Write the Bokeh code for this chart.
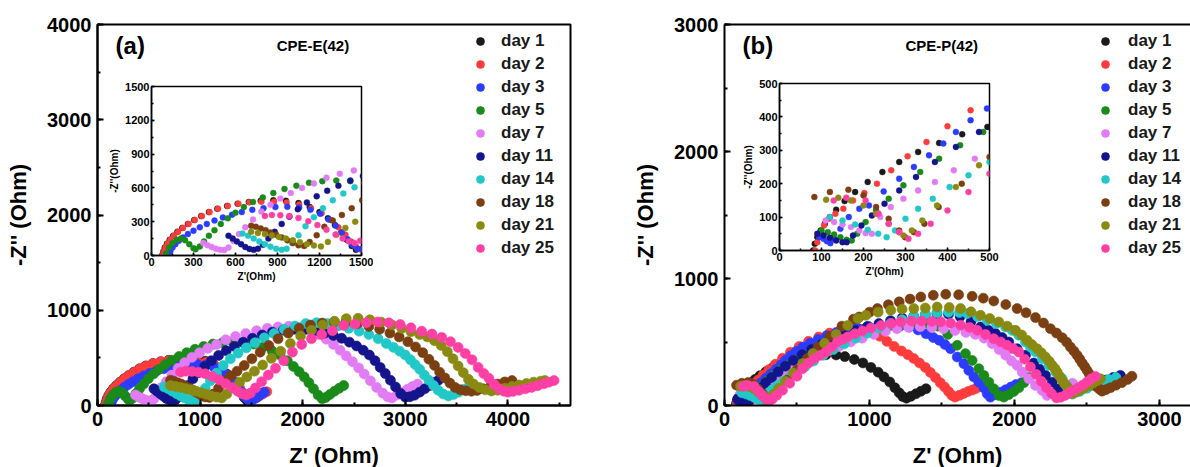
from bokeh.plotting import figure
from bokeh.models import (Range1d, SingleIntervalTicker, FixedTicker, Legend, LegendItem,
                          Label, LinearAxis, Row)
from bokeh.embed import file_html
from bokeh.resources import INLINE

FONT = "Liberation Sans"
DAYS = ["day 1", "day 2", "day 3", "day 5", "day 7", "day 11", "day 14", "day 18", "day 21", "day 25"]
COLORS = ["#1a1a1a", "#ff3b3b", "#2b3cff", "#1a8a1a", "#e27cf5",
          "#14148c", "#22c8c8", "#7b3f12", "#8a8a12", "#ff3fa4"]

# ---------------- panel (a)  CPE-E(42): Z' (Ohm), -Z'' (Ohm) ----------------
a1_x = [75,85,95,110,130,155,185,220,260,305,355,410,470,540,615,695,780,870,960,1050,1130,1200,1260,1310,1355,1395,1430,1460,1495,1530,1570,1610]
a1_y = [0,35,70,105,140,175,210,245,280,315,350,385,415,440,460,475,485,490,485,465,430,385,330,270,205,140,85,50,55,80,105,130]
a2_x = [80,90,100,115,135,160,190,225,265,310,360,415,475,545,620,700,785,875,965,1055,1140,1215,1280,1335,1385,1425,1460,1495,1530,1570,1610,1650]
a2_y = [0,35,70,105,140,175,210,245,280,315,350,385,415,440,460,472,478,478,470,452,420,375,315,250,185,125,80,55,70,95,120,145]
a3_x = [125,135,150,170,195,225,260,300,345,395,450,510,575,645,720,800,885,970,1055,1135,1205,1265,1315,1360,1400,1435,1470,1505,1545,1585,1625]
a3_y = [10,40,70,100,130,160,190,220,250,280,310,338,362,385,405,420,430,432,425,405,370,320,265,205,145,95,60,55,80,110,140]
a5_x = [105,125,150,180,210,240,270,300,315,345,375,410,450,495,545,600,660,725,795,870,950,1035,1125,1220,1320,1420,1520,1615,1700,1780,1850,1910,1965,2015,2060,2105,2150,2190,2225,2265,2310,2355,2400]
a5_y = [20,70,110,140,150,135,100,65,55,80,125,175,225,280,330,380,430,475,515,555,590,620,645,660,665,660,645,615,575,530,470,410,355,300,240,175,110,70,85,115,150,180,210]
a7_x = [370,400,430,460,490,520,550,585,625,670,725,785,850,920,995,1075,1160,1250,1345,1445,1550,1655,1760,1865,1965,2060,2150,2230,2300,2365,2425,2485,2545,2600,2660,2720,2780,2830,2870,2920,2970,3020,3070,3120]
a7_y = [110,90,75,60,50,48,70,130,190,250,320,390,450,505,555,600,640,690,725,755,785,810,825,832,820,790,745,695,640,580,520,460,395,330,260,190,130,90,80,110,140,170,200,225]
a11_x = [550,580,610,640,670,700,730,760,795,835,880,930,985,1045,1110,1180,1255,1335,1420,1510,1605,1705,1810,1915,2020,2120,2215,2300,2380,2455,2525,2590,2650,2705,2755,2805,2855,2905,2955,3000,3045,3090,3140,3190,3240,3290,3320]
a11_y = [175,150,125,100,75,58,50,60,95,150,210,280,345,410,470,525,575,620,665,705,740,770,790,800,798,785,760,735,705,665,625,580,530,470,400,335,265,195,125,88,92,108,140,175,210,245,262]
a14_x = [650,690,730,770,810,850,890,930,965,1005,1050,1100,1160,1225,1295,1370,1450,1535,1625,1720,1820,1925,2030,2135,2240,2345,2450,2550,2645,2735,2815,2885,2945,3000,3050,3095,3140,3185,3230,3275,3320,3370,3420,3470,3520,3570,3620]
a14_y = [195,175,150,125,100,78,60,50,60,110,180,260,340,420,490,550,605,660,710,755,800,835,860,870,860,835,810,780,745,700,650,610,570,530,480,430,380,320,265,210,160,120,100,115,140,170,200]
a18_x = [712,745,780,815,850,890,930,970,1010,1050,1090,1130,1180,1235,1295,1360,1430,1505,1585,1670,1760,1860,1965,2075,2190,2305,2420,2535,2645,2750,2850,2940,3025,3100,3170,3230,3285,3335,3385,3435,3485,3535,3590,3645,3700,3760,3830,3900,3970,4040]
a18_y = [265,255,240,225,205,185,160,135,110,90,85,120,180,255,310,360,420,490,560,630,700,760,810,845,865,877,875,860,830,800,760,720,670,615,555,485,420,350,290,235,190,165,155,150,158,175,200,225,248,262]
a21_x = [712,760,810,860,910,960,1010,1060,1110,1160,1210,1260,1320,1385,1455,1530,1610,1695,1785,1880,1980,2085,2195,2310,2425,2540,2655,2765,2870,2965,3055,3140,3215,3285,3350,3410,3465,3515,3565,3615,3665,3720,3780,3840,3900,3970,4040,4110,4180,4250,4320,4360]
a21_y = [210,200,190,178,165,150,135,118,100,88,80,120,185,245,300,360,425,495,570,650,730,790,845,885,912,915,900,875,845,810,775,745,720,680,630,565,490,415,345,275,225,190,165,152,160,180,200,215,230,245,255,262]
a25_x = [810,860,920,985,1050,1120,1185,1250,1315,1365,1410,1450,1490,1540,1600,1665,1735,1815,1900,1990,2085,2185,2290,2400,2510,2620,2730,2840,2950,3055,3160,3260,3355,3440,3515,3585,3650,3710,3765,3815,3865,3915,3960,4000,4050,4110,4170,4230,4290,4350,4400,4450]
a25_y = [350,360,358,350,333,305,270,228,186,150,125,110,130,185,250,320,390,470,560,640,700,745,785,840,855,868,877,868,850,815,780,750,715,670,610,545,480,400,335,285,222,175,150,140,148,160,175,190,208,228,245,262]

# ---------------- panel (b)  CPE-P(42) ----------------
b1_x = [80,84,90,98,108,120,135,155,180,210,245,285,330,380,435,495,560,630,700,770,830,895,955,1010,1060,1100,1140,1175,1205,1230,1255,1285,1320,1355,1390]
b1_y = [0,20,40,60,80,100,122,148,175,205,235,265,295,322,348,370,385,395,400,398,385,362,335,300,262,225,185,140,100,70,58,72,92,112,132]
b2_x = [85,90,97,106,118,133,152,175,202,232,266,305,350,400,455,515,580,650,725,800,875,950,1015,1070,1120,1170,1220,1265,1305,1345,1385,1420,1455,1488,1518,1545,1568,1590,1620,1650,1680,1710,1735]
b2_y = [0,25,50,75,95,110,125,150,172,200,240,282,325,372,420,465,505,540,570,592,605,600,580,545,505,465,430,400,370,335,300,260,220,180,145,110,80,66,80,95,110,122,134]
b3_x = [95,105,113,121,130,145,165,190,213,248,285,320,356,390,420,455,494,540,590,645,705,770,840,915,990,1065,1140,1210,1274,1335,1390,1440,1481,1520,1559,1605,1651,1685,1720,1754,1789,1812,1834,1870,1905,1940,1975,2010,2050]
b3_y = [40,35,28,22,35,65,100,125,135,177,215,250,285,320,355,390,425,460,490,520,550,575,595,612,625,632,632,625,618,595,565,535,513,480,447,382,329,276,224,184,139,92,66,85,105,125,145,165,180]
b5_x = [100,115,130,145,160,172,185,205,230,260,295,335,380,430,485,545,610,680,755,835,915,995,1075,1155,1235,1315,1395,1470,1540,1605,1662,1708,1754,1789,1823,1857,1892,1926,1960,1995,2030,2065,2100]
b5_y = [60,55,48,40,32,30,50,85,120,155,195,235,275,315,355,395,435,470,505,540,570,595,615,632,645,655,650,625,560,474,408,355,290,237,184,132,79,66,85,110,140,180,220]
b7_x = [110,130,150,170,190,205,220,240,265,295,330,370,415,465,520,580,645,715,790,870,950,1030,1110,1190,1270,1350,1430,1510,1590,1665,1730,1790,1846,1895,1940,1980,2018,2053,2099,2145,2191,2225,2260,2295,2330,2365,2400]
b7_y = [90,85,78,70,60,52,50,100,130,155,180,205,240,275,315,355,395,430,465,500,530,560,585,605,615,620,615,605,590,575,560,530,487,440,395,350,316,263,211,158,118,79,95,115,135,155,175]
b11_x = [90,105,120,135,150,160,175,195,220,250,285,325,370,420,475,535,600,670,745,825,905,985,1065,1145,1225,1305,1385,1465,1545,1625,1700,1766,1820,1869,1915,1961,2018,2076,2133,2175,2214,2260,2300,2335,2380,2430,2480,2530,2580,2630,2680,2730]
b11_y = [50,45,38,30,25,25,45,75,105,140,180,220,265,310,355,400,440,480,520,555,590,620,645,668,688,703,715,722,718,700,660,618,592,566,535,500,447,395,334,285,237,184,130,95,100,120,140,160,180,200,220,237]
b14_x = [120,150,180,210,235,255,275,300,330,365,405,450,500,555,615,680,750,825,905,985,1065,1145,1225,1305,1385,1465,1545,1620,1674,1745,1812,1875,1938,1985,2030,2075,2110,2145,2191,2237,2285,2329,2365,2400,2450,2500,2550,2600,2650,2700]
b14_y = [100,90,78,62,50,40,60,95,125,155,190,225,265,305,350,395,440,485,530,570,610,645,675,700,718,730,735,732,724,700,671,645,618,590,553,500,460,421,368,316,262,211,150,90,110,135,160,185,205,220]
b18_x = [83,120,164,200,230,260,285,299,320,345,379,434,500,570,645,725,810,890,929,1000,1055,1130,1205,1280,1354,1440,1526,1615,1708,1785,1857,1940,2018,2080,2145,2200,2248,2290,2329,2360,2386,2410,2432,2450,2467,2485,2501,2515,2524,2535,2547,2558,2570,2587,2604,2630,2662,2700,2740,2780,2810]
b18_y = [160,175,182,165,130,95,60,40,55,80,130,200,280,370,460,545,625,680,697,735,763,793,816,838,855,868,876,872,860,845,823,795,763,730,692,650,605,570,534,498,460,428,395,365,334,305,276,250,224,204,184,165,145,128,113,125,140,160,180,205,230]
b21_x = [111,140,170,200,230,260,285,295,315,340,375,420,475,540,610,690,770,850,920,975,1060,1147,1225,1306,1385,1467,1550,1628,1700,1766,1830,1892,1950,2007,2050,2087,2120,2156,2185,2214,2240,2260,2280,2294,2312,2329,2346,2363,2380,2398,2425,2450,2478,2510,2540,2570,2593]
b21_y = [152,158,150,135,110,80,55,45,60,90,135,190,255,330,410,490,560,630,685,710,735,750,758,763,768,776,772,763,738,710,685,658,625,592,555,513,480,447,415,382,348,316,290,263,230,197,170,145,118,92,105,120,135,155,175,195,210]
b25_x = [129,159,205,236,260,285,307,330,360,400,450,500,538,580,620,660,699,740,779,815,848,900,952,1010,1080,1150,1216,1290,1360,1430,1492,1560,1628,1690,1743,1800,1857,1905,1949,1990,2030,2070,2110,2150,2185,2220,2255,2290,2320,2350,2380,2410,2440,2470,2500,2530,2559]
b25_y = [150,158,150,110,80,55,35,50,80,120,175,230,290,335,370,395,421,460,500,520,539,565,586,610,630,645,658,665,665,662,658,648,632,615,592,560,526,500,474,448,421,365,303,245,190,140,95,60,65,80,100,120,140,160,185,210,229]

A_SERIES = [(a1_x, a1_y), (a2_x, a2_y), (a3_x, a3_y), (a5_x, a5_y), (a7_x, a7_y),
            (a11_x, a11_y), (a14_x, a14_y), (a18_x, a18_y), (a21_x, a21_y), (a25_x, a25_y)]
B_SERIES = [(b1_x, b1_y), (b2_x, b2_y), (b3_x, b3_y), (b5_x, b5_y), (b7_x, b7_y),
            (b11_x, b11_y), (b14_x, b14_y), (b18_x, b18_y), (b21_x, b21_y), (b25_x, b25_y)]


def style_axes(p, tick_size, label_size, major_in, minor_in, lw, tick_standoff, label_standoff):
    for ax in p.axis:
        ax.axis_line_width = lw
        ax.axis_line_color = "black"
        ax.major_tick_in = major_in
        ax.major_tick_out = 0
        ax.minor_tick_in = minor_in
        ax.minor_tick_out = 0
        ax.major_tick_line_width = lw
        ax.minor_tick_line_width = lw
        ax.major_tick_line_color = "black"
        ax.minor_tick_line_color = "black"
        ax.major_label_text_font = FONT
        ax.major_label_text_font_style = "bold"
        ax.major_label_text_font_size = tick_size
        ax.major_label_text_color = "black"
        ax.major_label_standoff = tick_standoff
        ax.axis_label_text_font = FONT
        ax.axis_label_text_font_style = "bold"
        ax.axis_label_text_font_size = label_size
        ax.axis_label_text_color = "black"
        ax.axis_label_standoff = label_standoff


def main_panel(series, frame_w, mbl, mbr, xmax, ymax, tag, tag_x, title, title_x, title_y,
               leg_x, leg_standoff, outline):
    p = figure(frame_width=frame_w, frame_height=381,
               x_range=Range1d(0, xmax), y_range=Range1d(0, ymax),
               min_border_left=mbl, min_border_right=mbr, min_border_top=24, min_border_bottom=62,
               title_location=None, output_backend="svg", toolbar_location=None)
    p.grid.visible = False
    p.background_fill_color = "white"
    p.border_fill_color = "white"
    p.xaxis.ticker = SingleIntervalTicker(interval=1000, num_minor_ticks=2)
    p.yaxis.ticker = SingleIntervalTicker(interval=1000, num_minor_ticks=2)
    p.xaxis.axis_label = "Z' (Ohm)"
    p.yaxis.axis_label = "-Z'' (Ohm)"
    if outline:
        p.outline_line_color = "black"
        p.outline_line_width = 2
        p.outline_line_alpha = 1
    else:
        p.outline_line_color = None
        top = LinearAxis(ticker=FixedTicker(ticks=[]), major_label_text_font_size="0px")
        p.add_layout(top, "above")
    style_axes(p, "20px", "22px", 6, 3, 2, 6, 13)
    p.xaxis.axis_label_standoff = 14
    items = []
    for (xs, ys), c, d in zip(series, COLORS, DAYS):
        r = p.scatter(xs, ys, size=10, marker="circle", fill_color=c, line_color=c,
                      line_width=0.6)
        items.append(LegendItem(label=d, renderers=[r]))
    leg = Legend(items=items, location=(leg_x, 147), orientation="vertical",
                 border_line_color=None, background_fill_alpha=0, padding=0, margin=0,
                 spacing=3, glyph_width=20, glyph_height=20, label_height=20,
                 label_standoff=leg_standoff, label_text_font=FONT,
                 label_text_font_style="bold", label_text_font_size="17px",
                 label_text_color="#1a1a1a")
    p.add_layout(leg)
    p.add_layout(Label(x=tag_x, y=title_y, text=tag, text_font=FONT, text_font_style="bold",
                       text_font_size="24px", text_baseline="middle", text_color="black"))
    p.add_layout(Label(x=title_x, y=title_y, text=title, text_font=FONT,
                       text_font_style="bold", text_font_size="15px", text_baseline="middle",
                       text_color="black"))
    return p


def inset_panel(series, lim, step, frame_h, left, top):
    p = figure(frame_width=210, frame_height=frame_h, x_range=Range1d(0, lim),
               y_range=Range1d(0, lim),
               min_border_left=55, min_border_right=12, min_border_top=24, min_border_bottom=32,
               title_location=None, output_backend="svg", toolbar_location=None,
               styles={"position": "absolute", "left": f"{left}px", "top": f"{top}px"})
    p.grid.visible = False
    p.background_fill_color = "white"
    p.border_fill_color = None
    p.outline_line_color = "black"
    p.outline_line_width = 1.5
    p.outline_line_alpha = 1
    p.xaxis.ticker = SingleIntervalTicker(interval=step, num_minor_ticks=2)
    p.yaxis.ticker = SingleIntervalTicker(interval=step, num_minor_ticks=2)
    p.xaxis.axis_label = "Z'(Ohm)"
    p.yaxis.axis_label = "-Z''(Ohm)"
    style_axes(p, "11px", "10px", 3, 2, 1.5, 2, 2)
    for (xs, ys), c in zip(series, COLORS):
        p.scatter(xs, ys, size=6, marker="circle", fill_color=c, line_color=c, line_width=0.4)
    return p


pa = main_panel(A_SERIES, 473, 97, 25, 4610, 4000, "(a)", 176, "CPE-E(42)", 1746, 3779,
                373, 11, True)
pb = main_panel(B_SERIES, 466, 129, 0, 3214, 3000, "(b)", 124, "CPE-P(42)", 1248, 2833,
                371, 13, False)
ia = inset_panel(A_SERIES, 1500, 300, 169, 96, 62)
ib = inset_panel(B_SERIES, 500, 100, 167, 724, 59)

layout = Row(children=[pa, pb, ia, ib], spacing=0)

open("out.html", "w").write(file_html(layout, INLINE))
